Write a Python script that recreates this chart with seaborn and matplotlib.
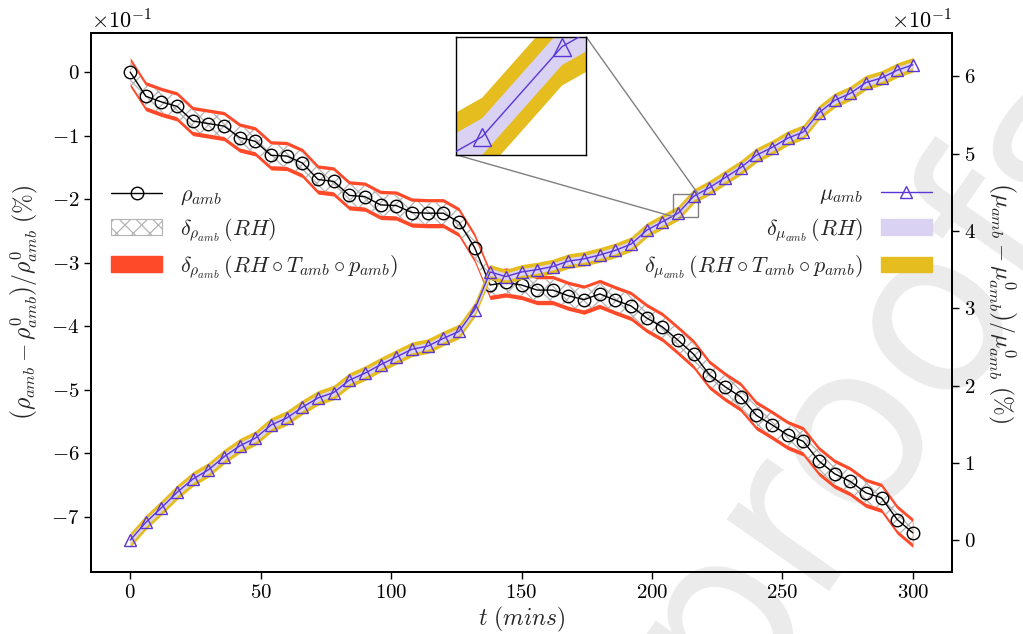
import numpy as np
import matplotlib
matplotlib.use("Agg")
import matplotlib.pyplot as plt
import seaborn as sns
from matplotlib.lines import Line2D
from matplotlib.patches import Patch
from mpl_toolkits.axes_grid1.inset_locator import mark_inset

# ---- data (values read in units of 10^-1 %) ----
t_mins = np.arange(0, 301, 6)
rho_amb = [0.00, -0.38, -0.47, -0.54, -0.77, -0.81, -0.85, -1.03, -1.09, -1.31,
           -1.32, -1.43, -1.69, -1.72, -1.94, -1.96, -2.09, -2.10, -2.21, -2.22,
           -2.22, -2.36, -2.76, -3.35, -3.31, -3.35, -3.43, -3.43, -3.52, -3.58,
           -3.49, -3.59, -3.68, -3.87, -4.01, -4.22, -4.44, -4.76, -4.95, -5.11,
           -5.40, -5.55, -5.71, -5.81, -6.12, -6.32, -6.44, -6.62, -6.70, -7.04,
           -7.25]
mu_amb = [0.00, 0.23, 0.42, 0.62, 0.79, 0.91, 1.08, 1.22, 1.32, 1.49,
          1.58, 1.72, 1.84, 1.91, 2.07, 2.16, 2.27, 2.37, 2.47, 2.51,
          2.61, 2.70, 2.98, 3.47, 3.41, 3.47, 3.50, 3.54, 3.61, 3.64,
          3.69, 3.75, 3.83, 4.01, 4.12, 4.23, 4.45, 4.56, 4.69, 4.82,
          4.98, 5.08, 5.20, 5.28, 5.53, 5.69, 5.78, 5.92, 5.98, 6.08,
          6.15]
# half-widths of uncertainty bands (10^-1 %)
rho_unc_RH = 0.17
rho_unc_all = 0.23
mu_unc_RH = 0.045
mu_unc_all = 0.095

SCALE = 0.1
rho = np.array(rho_amb) * SCALE
mu = np.array(mu_amb) * SCALE

RED = "#ff4a2a"
GOLD = "#e5bd1f"
LAV = "#d9d2f2"
VIOLET = "#5b35d5"
HATCHC = "#b4b4b4"

sns.set_theme(style="ticks")
plt.rcParams.update({
    "font.family": "serif",
    "font.serif": ["cmr10"],
    "mathtext.fontset": "cm",
    "axes.formatter.use_mathtext": True,
    "axes.unicode_minus": True,
    "axes.edgecolor": "black",
    "axes.linewidth": 1.4,
    "xtick.color": "black",
    "ytick.color": "black",
    "xtick.major.size": 5,
    "ytick.major.size": 5,
    "xtick.major.width": 1.0,
    "ytick.major.width": 1.0,
    "hatch.color": HATCHC,
    "hatch.linewidth": 0.9,
})

fig = plt.figure(figsize=(10.23, 6.34), dpi=100, facecolor="white")
ax = fig.add_subplot(111)
fig.subplots_adjust(left=0.089, right=0.9306, top=0.948, bottom=0.0978)
ax2 = ax.twinx()
for a in (ax, ax2):
    a.patch.set_alpha(0)

# watermark
fig.text(0.86, 0.40, "proofs", rotation=55, fontsize=165, color="#ebebeb",
         ha="center", va="center", zorder=-5, family="DejaVu Sans")

# rho bands
ax.fill_between(t_mins, rho - rho_unc_all * SCALE, rho + rho_unc_all * SCALE,
                color=RED, lw=0, zorder=1)
ax.fill_between(t_mins, rho - rho_unc_RH * SCALE, rho + rho_unc_RH * SCALE,
                facecolor="white", edgecolor=HATCHC, hatch="xx", lw=0, zorder=2)
sns.lineplot(x=t_mins, y=rho, ax=ax, color="black", lw=1, marker="o",
             markersize=9, markerfacecolor="none", markeredgecolor="black",
             markeredgewidth=1.0, zorder=3, legend=False)

# mu bands
def draw_mu(axis, ms):
    axis.fill_between(t_mins, mu - mu_unc_all * SCALE, mu + mu_unc_all * SCALE,
                      color=GOLD, lw=0, zorder=1)
    axis.fill_between(t_mins, mu - mu_unc_RH * SCALE, mu + mu_unc_RH * SCALE,
                      color=LAV, lw=0, zorder=2)
    sns.lineplot(x=t_mins, y=mu, ax=axis, color=VIOLET, lw=1, marker="^",
                 markersize=ms, markerfacecolor="none", markeredgecolor=VIOLET,
                 markeredgewidth=1.0, zorder=3, legend=False)

draw_mu(ax2, 9)

# axes formatting
ax.set_xlim(-15, 315)
ax.set_xticks([0, 50, 100, 150, 200, 250, 300])
for a in (ax, ax2):
    a.ticklabel_format(axis="y", style="sci", scilimits=(0, 0), useMathText=True)
    a.yaxis.get_offset_text().set_fontsize(16)
    a.tick_params(labelsize=15, direction="out")
    a.grid(False)
ax.set_xlabel(r"$t\ (mins)$", fontsize=17, labelpad=2)
ax.set_ylabel(r"$\left(\rho_{amb}-\rho^{0}_{amb}\right)/\rho^{0}_{amb}\ (\%)$",
              fontsize=17, labelpad=8)
ax2.set_ylabel(r"$\left(\mu_{amb}-\mu^{0}_{amb}\right)/\mu^{0}_{amb}\ (\%)$",
               fontsize=17, rotation=270, labelpad=30)

# legends
h_left = [Line2D([], [], color="black", lw=1, marker="o", markersize=9,
                 markerfacecolor="none", markeredgecolor="black"),
          Patch(facecolor="white", edgecolor=HATCHC, hatch="xx", lw=0.8),
          Patch(facecolor=RED, edgecolor=RED)]
l_left = [r"$\rho_{amb}$", r"$\delta_{\rho_{amb}}\,(RH)$",
          r"$\delta_{\rho_{amb}}\,(RH\circ T_{amb}\circ p_{amb})$"]
leg1 = ax.legend(h_left, l_left, loc="center left", bbox_to_anchor=(0.0, 0.63),
                 frameon=False, fontsize=16, handlelength=2.3, labelspacing=0.45)

h_right = [Line2D([], [], color=VIOLET, lw=1, marker="^", markersize=9,
                  markerfacecolor="none", markeredgecolor=VIOLET),
           Patch(facecolor=LAV, edgecolor=LAV),
           Patch(facecolor=GOLD, edgecolor=GOLD)]
l_right = [r"$\mu_{amb}$", r"$\delta_{\mu_{amb}}\,(RH)$",
           r"$\delta_{\mu_{amb}}\,(RH\circ T_{amb}\circ p_{amb})$"]
leg2 = ax2.legend(h_right, l_right, loc="center right", bbox_to_anchor=(1.0, 0.63),
                  frameon=False, fontsize=16, handlelength=2.3, labelspacing=0.45,
                  markerfirst=False)

# inset zoom
axins = ax2.inset_axes([0.424, 0.774, 0.151, 0.219])
draw_mu(axins, 13)
axins.set_xlim(208.05, 217.8)
axins.set_ylim(4.186 * SCALE, 4.474 * SCALE)
axins.set_xticks([])
axins.set_yticks([])
axins.set_xlabel("")
axins.set_ylabel("")
for s in axins.spines.values():
    s.set_color("black")
    s.set_linewidth(1.0)
mark_inset(ax2, axins, loc1=1, loc2=3, fc="none", ec="0.5", lw=1)

fig.savefig("out.png", dpi=100, facecolor="white")
